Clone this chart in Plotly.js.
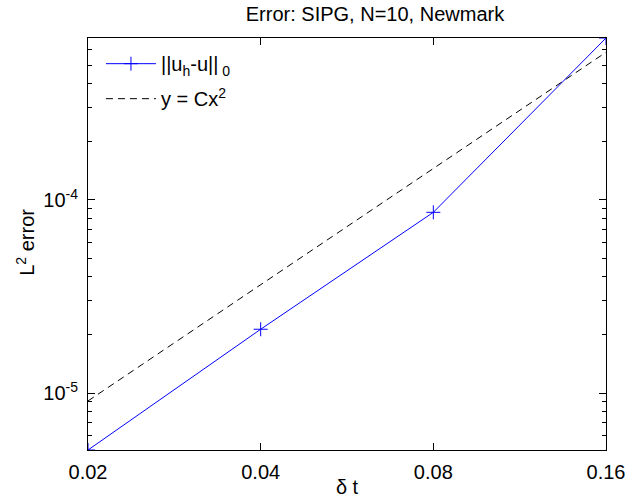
<!DOCTYPE html>
<html>
<head>
<meta charset="utf-8">
<script src="https://cdn.plot.ly/plotly-3.0.1.min.js"></script>
<style>html,body{margin:0;padding:0;background:#fff;}#chart{width:626px;height:498px;}</style>
</head>
<body>
<div id="chart"></div>
<script>
// Data
const dt = [0.02, 0.04, 0.08, 0.16];
const errL2 = [5.07e-6, 2.14e-5, 8.63e-5, 6.9e-4];
const refX = [0.02, 0.04, 0.08, 0.16];
const refY = [9.1e-6, 3.64e-5, 1.456e-4, 5.82e-4];
const xTickVals = [0.02, 0.04, 0.08, 0.16];
const xTickText = ['0.02', '0.04', '0.08', '0.16'];
const yTickVals = [1e-5, 1e-4];
const yTickText = ['10<sup>-5</sup>', '10<sup>-4</sup>'];
const yMinorVals = [6e-6, 7e-6, 8e-6, 9e-6, 2e-5, 3e-5, 4e-5, 5e-5, 6e-5, 7e-5, 8e-5, 9e-5, 2e-4, 3e-4, 4e-4, 5e-4, 6e-4];
const seriesNames = ['||u<sub>h</sub>-u||<sub> 0</sub>', 'y = Cx<sup>2</sup>'];
const titleText = 'Error: SIPG, N=10, Newmark';
const yTitleText = 'L<sup>2</sup> error';
const xTitleText = 'δ t';

const FONT = 'Liberation Sans, Arial, Helvetica, sans-serif';

const traces = [
  {
    x: dt, y: errL2, type: 'scatter', mode: 'lines+markers', name: seriesNames[0], legendgroup: 'a',
    line: {color: '#0000ff', width: 1},
    marker: {symbol: 'cross-thin', size: 10, color: '#0000ff', line: {width: 1, color: '#0000ff'}}
  },
  {
    x: refX, y: refY, type: 'scatter', mode: 'lines', name: seriesNames[1], legendgroup: 'b',
    line: {color: '#000000', width: 1, dash: '7px,5px'}
  }
];

const axisCommon = {
  type: 'log', showline: true, linecolor: '#000', linewidth: 1, mirror: 'allticks',
  ticks: 'inside', ticklen: 7, tickcolor: '#000', tickwidth: 1,
  showgrid: false, zeroline: false,
  tickfont: {family: FONT, size: 20, color: '#000'}
};

const layout = {
  width: 626, height: 498,
  margin: {l: 88, r: 20, t: 38, b: 48, pad: 0},
  paper_bgcolor: '#fff', plot_bgcolor: '#fff',
  font: {family: FONT, size: 20, color: '#000'},
  title: {text: titleText, font: {family: FONT, size: 20, color: '#000'},
          x: 0.554, xanchor: 'center', xref: 'paper', y: 0.972, yanchor: 'middle', yref: 'container'},
  xaxis: Object.assign({}, axisCommon, {
    range: [Math.log10(0.02), Math.log10(0.16)],
    tickmode: 'array', tickvals: xTickVals, ticktext: xTickText,
    ticklabelstandoff: 4,
    title: {text: xTitleText, font: {family: FONT, size: 20, color: '#000'}, standoff: 2}
  }),
  yaxis: Object.assign({}, axisCommon, {
    range: [Math.log10(5.07e-6), Math.log10(6.9e-4)],
    tickmode: 'array', tickvals: yTickVals, ticktext: yTickText,
    ticklabelstandoff: 5,
    minor: {tickmode: 'array', tickvals: yMinorVals,
            ticks: 'inside', ticklen: 4, tickcolor: '#000', showgrid: false}
  }),
  annotations: [
    {text: yTitleText, textangle: -90, xref: 'paper', yref: 'paper', x: -0.12, y: 0.505,
     xanchor: 'center', yanchor: 'middle', showarrow: false,
     font: {family: FONT, size: 20, color: '#000'}}
  ],
  showlegend: true,
  legend: {x: 0.025, y: 0.985, xanchor: 'left', yanchor: 'top', bgcolor: 'rgba(255,255,255,0)',
           borderwidth: 0, font: {family: FONT, size: 20, color: '#000'}, itemwidth: 50,
           traceorder: 'grouped', tracegroupgap: 6}
};

Plotly.newPlot('chart', traces, layout, {staticPlot: true, displayModeBar: false});
</script>
</body>
</html>
